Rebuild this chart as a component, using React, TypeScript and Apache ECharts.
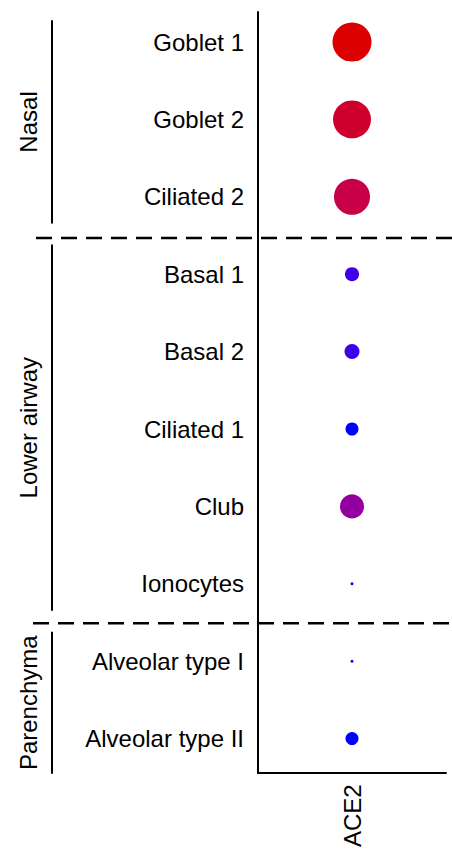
import React, { useEffect, useRef } from "react";
import * as echarts from "echarts";

const cellTypes = [
  "Goblet 1",
  "Goblet 2",
  "Ciliated 2",
  "Basal 1",
  "Basal 2",
  "Ciliated 1",
  "Club",
  "Ionocytes",
  "Alveolar type I",
  "Alveolar type II",
];
const genes = ["ACE2"];
// scaled mean expression (0 = low, 1 = high)
const meanExpression = [1.0, 0.84, 0.75, 0.25, 0.25, 0.0, 0.5, 0.02, 0.02, 0.0];
// percent of cells expressing
const pctExpressing = [15.2, 14.4, 13.0, 2.0, 2.25, 1.7, 5.8, 0.09, 0.09, 1.7];

const groups = [
  { name: "Nasal", from: 0, to: 2 },
  { name: "Lower airway", from: 3, to: 7 },
  { name: "Parenchyma", from: 8, to: 9 },
];

const FONT = "'Liberation Sans', Arial, Helvetica, sans-serif";

export default function App() {
  const ref = useRef<HTMLDivElement>(null);
  useEffect(() => {
    if (!ref.current) return;
    const chart = echarts.init(ref.current, null, { renderer: "svg" });

    const gridTop = 3.3;
    const gridH = 774.4;
    const rowH = gridH / cellTypes.length;
    const rowY = (i: number) => gridTop + (i + 0.5) * rowH;

    const graphics: any[] = [];
    groups.forEach((g, gi) => {
      const y1 = rowY(g.from) - rowH / 2 + (gi === 0 ? 17 : 9);
      const y2 = rowY(g.to) + rowH / 2 - (gi === 2 ? 4 : 12);
      graphics.push({
        type: "line",
        shape: { x1: 52, y1, x2: 52, y2 },
        style: { stroke: "#000", lineWidth: 2 },
      });
      graphics.push({
        type: "text",
        x: 28,
        y: (y1 + y2) / 2,
        rotation: Math.PI / 2,
        style: {
          text: g.name,
          font: `24px ${FONT}`,
          fill: "#000",
          textAlign: "center",
          textVerticalAlign: "middle",
        },
      });
    });
    // dashed separators between groups
    [2, 7].forEach((i, k) => {
      const y = rowY(i) + rowH / 2 + (k === 0 ? 2.5 : 0.5);
      graphics.push({
        type: "line",
        shape: { x1: k === 0 ? 36 : 33, y1: y, x2: 452, y2: y },
        style: { stroke: "#000", lineWidth: 2.5, lineDash: [16, 9] },
      });
    });

    chart.setOption({
      animation: false,
      grid: [
        { left: 258, width: 188, top: gridTop, height: gridH },
        { left: 258, width: 188, top: 12, height: 761 },
      ],
      xAxis: [
        {
          type: "category",
          gridIndex: 0,
          data: genes,
          axisLine: { show: false },
          axisTick: { show: false },
          axisLabel: {
            rotate: 90,
            margin: 7,
            fontSize: 24,
            color: "#000",
            fontFamily: FONT,
          },
        },
        {
          type: "value",
          gridIndex: 1,
          min: 0,
          max: 1,
          axisLine: { show: true, lineStyle: { color: "#000", width: 2 } },
          axisTick: { show: false },
          axisLabel: { show: false },
          splitLine: { show: false },
        },
      ],
      yAxis: [
        {
          type: "category",
          gridIndex: 0,
          inverse: true,
          data: cellTypes,
          axisLine: { show: false },
          axisTick: { show: false },
          splitLine: { show: false },
          axisLabel: {
            margin: 14,
            fontSize: 24,
            color: "#000",
            fontFamily: FONT,
          },
        },
        {
          type: "value",
          gridIndex: 1,
          min: 0,
          max: 1,
          axisLine: { show: true, onZero: false, lineStyle: { color: "#000", width: 2 } },
          axisTick: { show: false },
          axisLabel: { show: false },
          splitLine: { show: false },
        },
      ],
      visualMap: {
        show: false,
        type: "continuous",
        dimension: 2,
        min: 0,
        max: 1,
        seriesIndex: 0,
        inRange: { color: ["#0000FF", "#4000E8", "#9400A0", "#C80048", "#DD0000"] },
      },
      series: [
        {
          type: "scatter",
          xAxisIndex: 0,
          yAxisIndex: 0,
          data: cellTypes.map((c, i) => [genes[0], c, meanExpression[i], pctExpressing[i]]),
          symbol: "circle",
          symbolSize: (v: any) => 10 * Math.sqrt(v[3]),
          itemStyle: { opacity: 1 },
        },
      ],
      graphic: graphics,
    });
    return () => chart.dispose();
  }, []);
  return (
    <div
      ref={ref}
      style={{ position: "absolute", left: 0, top: 0, width: 452, height: 850, background: "#fff" }}
    />
  );
}
